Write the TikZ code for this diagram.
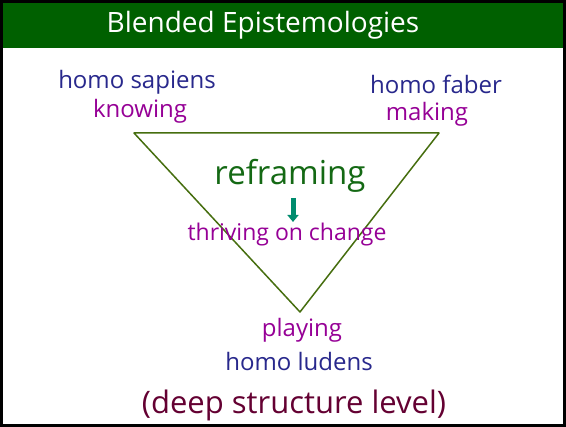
\documentclass[tikz,border=0pt]{standalone}
\usepackage{fontspec}
\usetikzlibrary{arrows.meta}
\setmainfont{Open Sans}
\definecolor{headgreen}{RGB}{0,96,0}
\definecolor{navy}{RGB}{40,40,140}
\definecolor{violet}{RGB}{150,0,150}
\definecolor{leafgreen}{RGB}{20,105,20}
\definecolor{teal}{RGB}{0,140,110}
\definecolor{maroon}{RGB}{100,0,50}
\definecolor{olive}{RGB}{70,110,15}
\begin{document}
\begin{tikzpicture}[x=1pt,y=-1pt,
  lbl/.style={inner sep=0pt,anchor=center},
  species/.style={lbl,text=navy,font=\fontsize{24}{24}\selectfont},
  mode/.style={lbl,text=violet,font=\fontsize{24}{24}\selectfont},
  edge/.style={draw=olive,line width=1.5pt,line join=round}]
  \useasboundingbox (0,0) rectangle (566,427);
  % frame and title bar
  \fill[white] (0,0) rectangle (566,427);
  \fill[headgreen] (1.5,1.5) rectangle (564.5,48.5);
  \draw[black,line width=3pt] (1.5,1.5) rectangle (564.5,425.5);
  \node[lbl,text=white,font=\fontsize{28}{28}\selectfont] (title) at (263,25) {Blended Epistemologies};

  % triangle
  \coordinate (tl) at (134,133);
  \coordinate (tr) at (439,133);
  \coordinate (bt) at (300,312);
  \draw[edge] (tl) -- (tr) -- (bt) -- cycle;

  % corner labels
  \node[species] (sapiens) at (137,82) {homo sapiens};
  \node[mode] (knowing) at (140,111) {knowing};
  \node[species] (faber) at (436,84) {homo faber};
  \node[mode] (making) at (427,114) {making};
  \node[mode] (playing) at (302,330) {playing};
  \node[species] (ludens) at (299,362) {homo ludens};

  % centre
  \node[lbl,text=leafgreen,font=\fontsize{33}{33}\selectfont] (reframing) at (290,176) {reframing};
  \node[lbl,text=violet,font=\fontsize{23}{23}\selectfont] (thriving) at (287,235) {thriving on change};
  \coordinate (a0) at (293,198);
  \coordinate (a1) at (293,222);
  \draw[teal,line width=5pt,-{Triangle[width=11pt,length=7pt]}] (a0) -- (a1);

  % footer
  \node[lbl,text=maroon,font=\fontsize{31}{31}\selectfont] (deep) at (294,405) {(deep structure level)};
\end{tikzpicture}
\end{document}
